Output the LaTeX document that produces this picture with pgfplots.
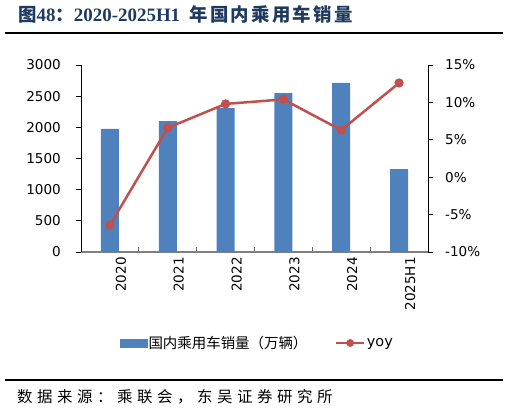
\documentclass[border=0pt]{standalone}
\usepackage{fontspec}
\usepackage{pgfplots}
\pgfplotsset{compat=1.18}
\setmainfont{DejaVu Sans}
\newfontfamily\cjk{Noto Sans CJK SC}
\newfontfamily\tnr{Liberation Serif}
\definecolor{barblue}{HTML}{4F81BD}
\definecolor{linered}{HTML}{C0504D}
\definecolor{titleblue}{HTML}{1F3A5F}
\pgfplotsset{
  barlegend/.style={legend image code/.code={\fill[barblue] (0bp,-4.3bp) rectangle (27bp,4.3bp);}},
  linelegend/.style={legend image code/.code={\draw[##1, mark size=2.6bp, mark repeat=2, mark phase=2] plot coordinates {(0bp,0bp) (14bp,0bp) (28bp,0bp)};}}
}
\begin{document}
\begin{tikzpicture}
\path[use as bounding box] (0bp,0bp) rectangle (509bp,-413bp);
% title
\node[anchor=base west, inner sep=0pt, text=titleblue, font=\fontsize{18.5}{20}\selectfont] at (18bp,-21.5bp)
 {{\cjk\bfseries 图}{\tnr\fontsize{19}{20}\selectfont\bfseries 48}{\cjk\bfseries ：}{\tnr\fontsize{19}{20}\selectfont\bfseries 2020-2025H1}\hspace{9.4bp}{\cjk\bfseries\addfontfeatures{LetterSpace=12}年国内乘用车销量}};
\draw[line width=2bp] (5bp,-33.3bp) -- (503bp,-33.3bp);
\draw[line width=2bp] (5bp,-380bp) -- (503bp,-380bp);
\node[anchor=base west, inner sep=0pt, font=\fontsize{15.5}{16}\selectfont] at (17bp,-402bp)
 {\cjk\addfontfeatures{LetterSpace=29.5}数据来源：乘联会，东吴证券研究所};
% axis A: bars + inside boundary ticks + gray bottom line
\begin{axis}[at={(81bp,-252bp)}, anchor=south west, width=347bp, height=187bp, scale only axis,
  xmin=-0.5, xmax=5.5, ymin=0, ymax=3000,
  axis x line*=bottom, axis y line=none,
  x axis line style={draw=gray, line width=1.5bp, -},
  tick align=inside, major tick length=5bp,
  xtick={0.5,1.5,2.5,3.5,4.5}, xticklabels={},
  xtick style={draw=gray!80!black, line width=0.8bp},
  ytick=\empty]
\addplot[ybar, bar width=18bp, fill=barblue, draw=none] coordinates {(0,1975) (1,2100) (2,2310) (3,2550) (4,2715) (5,1330)};
\end{axis}
% axis B: left y axis + x labels
\begin{axis}[at={(81bp,-252bp)}, anchor=south west, width=347bp, height=187bp, scale only axis,
  xmin=-0.5, xmax=5.5, ymin=0, ymax=3000,
  axis x line*=bottom, axis y line*=left,
  x axis line style={draw=none},
  y axis line style={black, line width=0.8bp, -},
  tick align=outside, major tick length=5bp,
  xtick={0,1,2,3,4,5}, xticklabels={2020,2021,2022,2023,2024,2025H1},
  xtick style={draw=none},
  ytick={0,500,...,3000},
  ytick style={black, line width=0.8bp},
  /pgf/number format/assume math mode=true,
  /pgf/number format/1000 sep={},
  tick label style={font=\fontsize{13.6}{15}\selectfont},
  xticklabel style={rotate=90, anchor=east, inner sep=0pt, yshift=-11bp},
  yticklabel style={inner sep=0pt, anchor=east, xshift=-15bp}]
\addplot[draw=none] coordinates {(0,0)};
\end{axis}
% axis C: right axis, line, legend
\begin{axis}[at={(81bp,-252bp)}, anchor=south west, width=347bp, height=187bp, scale only axis,
  xmin=-0.5, xmax=5.5, ymin=-10, ymax=15,
  axis x line=none, axis y line*=right,
  y axis line style={black, line width=0.8bp, -},
  tick align=outside, major tick length=5bp,
  ytick={-10,-5,...,15},
  ytick style={black, line width=0.8bp},
  yticklabel={\pgfmathprintnumber{\tick}\%},
  /pgf/number format/assume math mode=true,
  tick label style={font=\fontsize{13.6}{15}\selectfont},
  yticklabel style={inner sep=0pt, anchor=west, xshift=12bp},
  legend columns=2,
  legend style={at={(0.5,0)}, anchor=center, yshift=-91bp, xshift=2.5bp, draw=none, fill=none,
    font=\fontsize{14.5}{16}\selectfont, inner sep=0pt,
    /tikz/every even column/.append style={column sep=26bp},
    nodes={inner sep=1.5bp}}]
\addlegendimage{barlegend}
\addlegendentry{\cjk 国内乘用车销量（万辆）}
\addplot[linered, line width=2.5bp, mark=*, mark size=3.3bp, mark options={solid, fill=linered}, linelegend]
  coordinates {(0,-6.4) (1,6.6) (2,9.8) (3,10.4) (4,6.3) (5,12.6)};
\addlegendentry{yoy}
\end{axis}
\end{tikzpicture}
\end{document}
